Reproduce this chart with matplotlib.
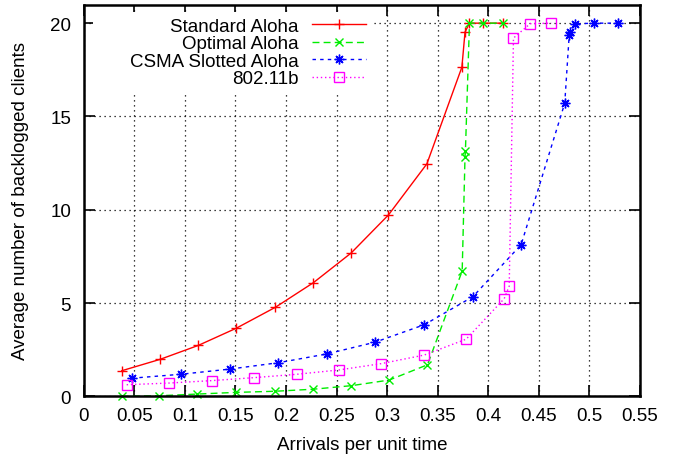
import matplotlib
matplotlib.use("Agg")
import matplotlib.pyplot as plt
from matplotlib.patches import Rectangle

plt.rcParams['font.family'] = ['Liberation Sans', 'DejaVu Sans']

# Offered load (arrivals per unit time) and mean backlog per protocol
std_x = [0.0376, 0.0755, 0.1134, 0.1509, 0.1895, 0.2271, 0.2644, 0.3013,
         0.3393, 0.3739, 0.3770, 0.3814, 0.3952, 0.4144]
std_y = [1.37, 1.98, 2.73, 3.65, 4.77, 6.09, 7.68, 9.72,
         12.46, 17.64, 19.52, 20.0, 20.0, 20.0]

opt_x = [0.0376, 0.0748, 0.1124, 0.1506, 0.1892, 0.2271, 0.2647, 0.3020,
         0.3399, 0.3742, 0.3770, 0.3774, 0.3814, 0.3952, 0.4144]
opt_y = [0.0, 0.03, 0.12, 0.21, 0.27, 0.38, 0.57, 0.87,
         1.69, 6.72, 12.85, 13.15, 20.0, 20.0, 20.0]

csma_x = [0.0475, 0.0959, 0.1447, 0.1925, 0.2404, 0.2881, 0.3369, 0.3848,
          0.4325, 0.4756, 0.4800, 0.4806, 0.4853, 0.5041, 0.5285]
csma_y = [0.97, 1.18, 1.46, 1.80, 2.27, 2.90, 3.84, 5.34,
          8.13, 15.71, 19.35, 19.55, 19.96, 20.0, 20.0]

wifi_x = [0.0425, 0.0844, 0.1266, 0.1684, 0.2107, 0.2520, 0.2941, 0.3366,
          0.3781, 0.4157, 0.4207, 0.4249, 0.4414, 0.4622]
wifi_y = [0.62, 0.71, 0.84, 1.00, 1.18, 1.41, 1.75, 2.21,
          3.06, 5.23, 5.91, 19.2, 19.97, 20.0]

series_names = ["Standard Aloha", "Optimal Aloha", "CSMA Slotted Aloha", "802.11b"]
x_ticks = [0, 0.05, 0.1, 0.15, 0.2, 0.25, 0.3, 0.35, 0.4, 0.45, 0.5, 0.55]
x_tick_labels = ["0", "0.05", "0.1", "0.15", "0.2", "0.25", "0.3", "0.35",
                 "0.4", "0.45", "0.5", "0.55"]
y_ticks = [0, 5, 10, 15, 20]

W, H = 681, 456
fig = plt.figure(figsize=(W / 100, H / 100), dpi=100)
ax = fig.add_axes([83.7 / W, 1 - 397.3 / H, (640 - 83.7) / W, (397.3 - 5.5) / H])

fs = 13.5
ax.plot(std_x, std_y, color='#ff0000', lw=1.0, ls='-', marker='+', ms=7.5,
        mew=1.0, clip_on=False, label=series_names[0])
ax.plot(opt_x, opt_y, color='#00ee00', lw=1.0, ls=(0, (5, 3)), marker='x', ms=6,
        mew=1.0, clip_on=False, label=series_names[1])
ax.plot(csma_x, csma_y, color='#0000ff', lw=1.0, ls=(0, (2.5, 3)), marker=(8, 2, 0),
        ms=7, mew=1.0, clip_on=False, label=series_names[2])
ax.plot(wifi_x, wifi_y, color='#ff00ff', lw=1.0, ls=(0, (1, 2)), marker='s', ms=6.5,
        mew=1.0, mfc='none', clip_on=False, label=series_names[3])

ax.set_xlim(0, 0.55)
ax.set_ylim(0, 21)
ax.set_xticks(x_ticks)
ax.set_xticklabels(x_tick_labels)
ax.set_yticks(y_ticks)
ax.tick_params(direction='in', length=8, width=1.2, top=True, right=True,
               labelsize=fs, colors='black')
ax.tick_params(axis='x', pad=7.5)
ax.tick_params(axis='y', pad=9)
ax.grid(True, color='black', ls=(0, (1, 3)), lw=0.9)
ax.set_axisbelow(True)
for s in ax.spines.values():
    s.set_linewidth(1.8)

ax.set_xlabel("Arrivals per unit time", fontsize=fs, labelpad=9)
ax.set_ylabel("Average number of backlogged clients", fontsize=fs, labelpad=15)

# opaque key area: blanks the grid behind the legend block
ax.add_patch(Rectangle((93 / W, 1 - 88 / H), (372 - 93) / W, (88 - 14) / H,
                       transform=fig.transFigure, facecolor='white',
                       edgecolor='none', zorder=1))

leg = ax.legend(loc='upper right', bbox_to_anchor=(372 / W, 1 - 13 / H),
                bbox_transform=fig.transFigure, markerfirst=False, frameon=True,
                fancybox=False, fontsize=fs, handlelength=2.9, handletextpad=0.7,
                labelspacing=0.02, borderpad=0.3, borderaxespad=0)
leg.get_frame().set_facecolor('white')
leg.get_frame().set_edgecolor('none')
leg.get_frame().set_alpha(1.0)
# text column right-aligned against the sample lines
for col in leg._legend_box.get_children()[1].get_children():
    col.align = "right"

fig.savefig("out.png", dpi=100, facecolor='white')
